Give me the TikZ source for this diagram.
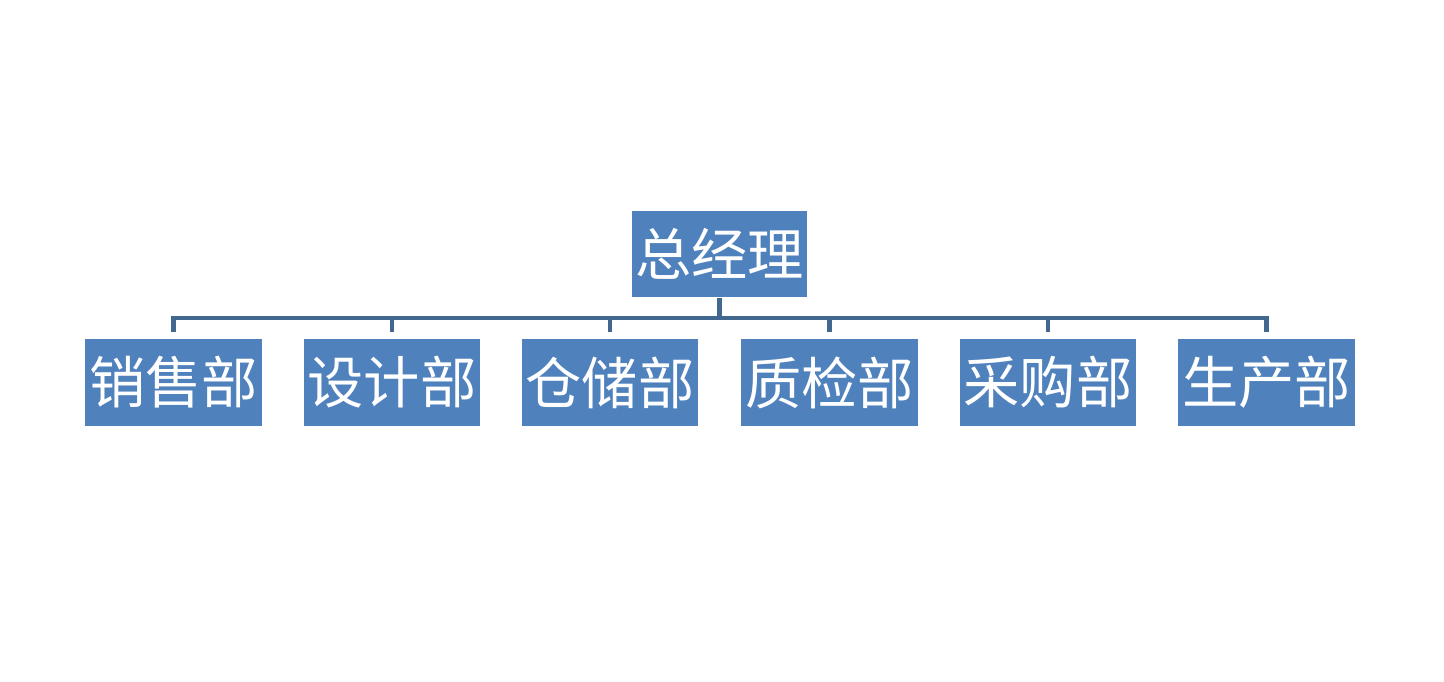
\documentclass[tikz,border=0pt]{standalone}
\usepackage{fontspec}
\newfontfamily\cjk{Noto Sans CJK SC}
\usetikzlibrary{calc}
\definecolor{boxblue}{RGB}{79,129,189}
\definecolor{linkblue}{RGB}{66,104,143}
\tikzset{
  dept/.style={fill=boxblue, text=white, inner sep=0pt, minimum width=1.76cm, minimum height=0.87cm, font=\cjk\fontsize{16}{16}\selectfont},
  link/.style={draw=linkblue, line width=1.15pt, line join=miter}
}

\begin{document}
\begin{tikzpicture}[x=0.01cm,y=-0.01cm]
\useasboundingbox (0,0) rectangle (1444,681);

\node[dept, minimum width=1.75cm, minimum height=0.86cm] (boss) at (719.5,254) {总经理};

\node[dept] (d1) at (173.5,382.5) {销售部};
\node[dept] (d2) at (392,382.5) {设计部};
\node[dept] (d3) at (610,382.5) {仓储部};
\node[dept] (d4) at (829.5,382.5) {质检部};
\node[dept] (d5) at (1048,382.5) {采购部};
\node[dept] (d6) at (1266.5,382.5) {生产部};

\coordinate (bar) at (719.5,318);

\draw[link] ([yshift=0.06cm]d1.north) |- (bar) -| ([yshift=0.06cm]d6.north);
\draw[link] (boss.south) -- (bar);
\foreach \i in {2,...,5}
  \draw[link] ([yshift=0.06cm]d\i.north) -- (d\i.north |- bar);
\end{tikzpicture}
\end{document}
